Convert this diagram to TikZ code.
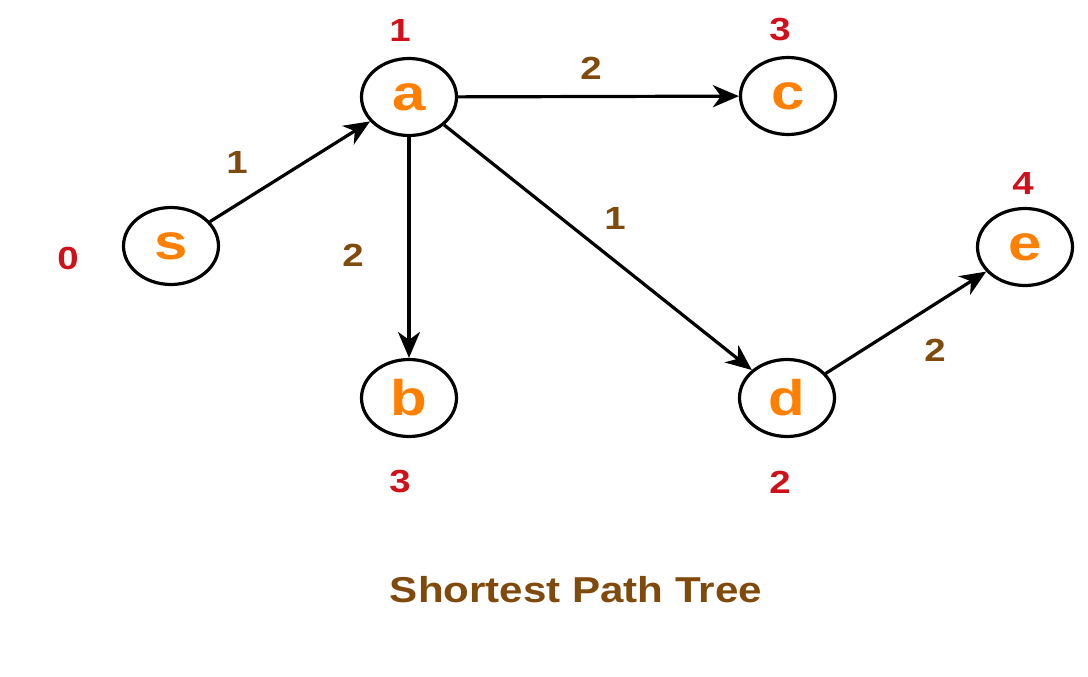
\documentclass[tikz,border=0pt]{standalone}
\usepackage{fontspec}
\usepackage{graphicx}
\setmainfont{Liberation Sans}
\usetikzlibrary{shapes.geometric,arrows.meta}
\definecolor{nodeorange}{HTML}{FF8000}
\definecolor{distred}{HTML}{D0101A}
\definecolor{wbrown}{HTML}{7F4A0C}
\tikzset{
  vtx/.style={ellipse, draw=black, line width=3.2pt, minimum width=95pt, minimum height=77pt, inner sep=0pt, text=nodeorange, font=\fontsize{50}{50}\selectfont\bfseries},
  dist/.style={text=distred, inner sep=0pt, font=\fontsize{32}{32}\selectfont\bfseries},
  wt/.style={text=wbrown, inner sep=0pt, font=\fontsize{32}{32}\selectfont\bfseries},
  edge/.style={line width=3.2pt, -{Stealth[length=26pt,width=22pt,inset=8pt]}},
}
\newcommand{\wide}[1]{\scalebox{1.2}[1]{#1}}
\begin{document}
\begin{tikzpicture}[x=1pt,y=-1pt]
\useasboundingbox (0,0) rectangle (1088,677);
\node[vtx] (s) at (171,246) {\wide{s}};
\node[vtx] (a) at (409,97) {\wide{a}};
\node[vtx] (c) at (788,96) {\wide{c}};
\node[vtx] (b) at (409,398) {\wide{b}};
\node[vtx] (d) at (787,398) {\wide{d}};
\node[vtx] (e) at (1025,247) {\wide{e}};
\draw[edge] (s) -- (a);
\draw[edge] (a) -- (c);
\draw[edge] (a) -- (b);
\draw[edge] (a) -- (d);
\draw[edge] (d) -- (e);
\node[dist] (ds) at (68,258) {\wide{0}};
\node[dist] (da) at (400,30) {\wide{1}};
\node[dist] (dc) at (780,30) {\wide{3}};
\node[dist] (de) at (1023,183) {\wide{4}};
\node[dist] (db) at (400,482) {\wide{3}};
\node[dist] (dd) at (780,482) {\wide{2}};
\node[wt] (wsa) at (237,162) {\wide{1}};
\node[wt] (wac) at (591,68) {\wide{2}};
\node[wt] (wab) at (353,255) {\wide{2}};
\node[wt] (wad) at (615,218) {\wide{1}};
\node[wt] (wde) at (935,350) {\wide{2}};
\node[text=wbrown, inner sep=0pt, font=\fontsize{36}{36}\selectfont\bfseries] (title) at (576,590) {\scalebox{1.17}[1]{Shortest Path Tree}};
\end{tikzpicture}
\end{document}
